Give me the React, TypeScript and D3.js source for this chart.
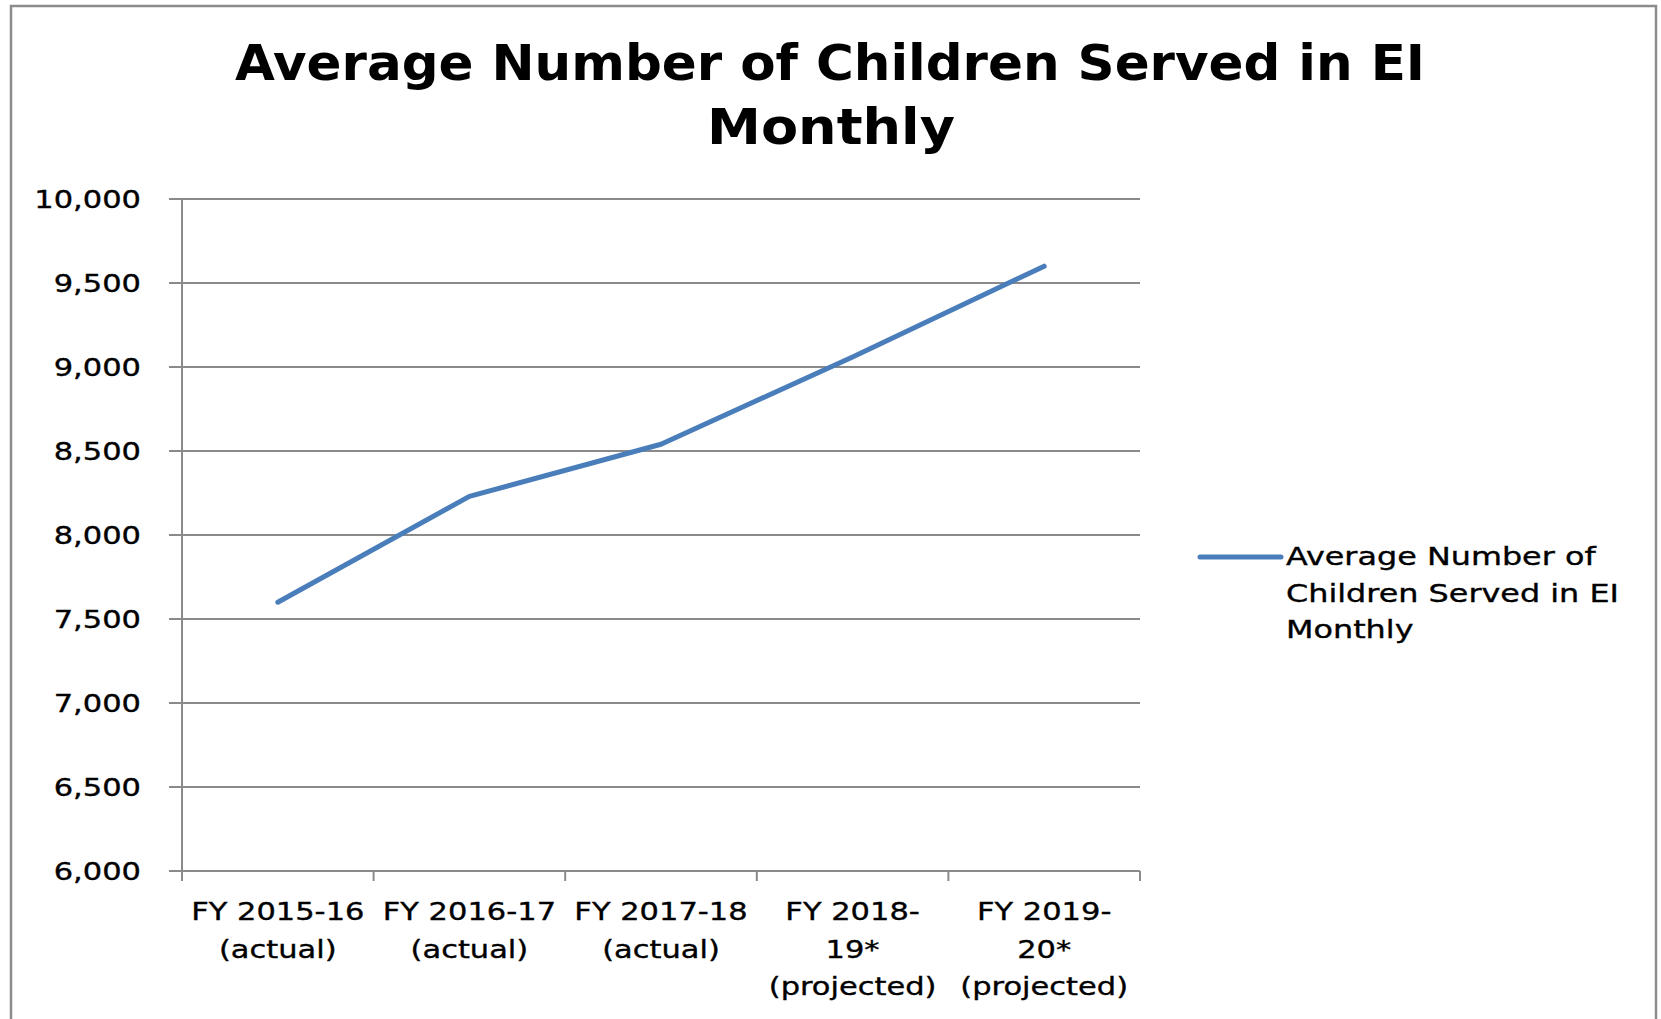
import React from "react";
import * as d3 from "d3";

const categories: string[][] = [
  ["FY 2015-16", "(actual)"],
  ["FY 2016-17", "(actual)"],
  ["FY 2017-18", "(actual)"],
  ["FY 2018-", "19*", "(projected)"],
  ["FY 2019-", "20*", "(projected)"],
];
const values: number[] = [7600, 8230, 8540, 9060, 9600];
const yTicks: number[] = [6000, 6500, 7000, 7500, 8000, 8500, 9000, 9500, 10000];
const titleLines: string[] = ["Average Number of Children Served in EI", "Monthly"];
const legendLines: string[] = ["Average Number of", "Children Served in EI", "Monthly"];

const W = 1661;
const H = 1019;
const plot = { left: 182, right: 1140, top: 199, bottom: 871 };
const FONT = "'DejaVu Sans', Verdana, sans-serif";
const GRID = "#8a8a8a";
const LINE = "#4A7EBB";

export default function App() {
  const keys = categories.map((c, i) => String(i));
  const x = d3.scaleBand<string>().domain(keys).range([plot.left, plot.right]).paddingInner(0).paddingOuter(0);
  const y = d3.scaleLinear().domain([6000, 10000]).range([plot.bottom, plot.top]);
  const fmt = d3.format(",");
  const line = d3
    .line<number>()
    .x((_, i) => (x(String(i)) as number) + x.bandwidth() / 2)
    .y((d) => y(d));
  const boundaries = keys.map((k) => x(k) as number).concat([plot.right]);

  const labelSize = 24.5;
  const labelStretch = 1.245;
  const legendStretch = 1.3;
  const textStroke = { stroke: "#000", strokeWidth: 0.35 };

  return (
    <svg
      width={W}
      height={H}
      style={{ position: "absolute", left: 0, top: 0, display: "block", background: "#fff" }}
    >
      <rect x={0} y={0} width={W} height={H} fill="#fff" />
      <rect x={11} y={6} width={1645} height={1040} fill="#fff" stroke="#8c8c8c" strokeWidth={2.5} />

      {/* Title */}
      <text
        x={830}
        y={80}
        textAnchor="middle"
        fontFamily={FONT}
        fontWeight="bold"
        fontSize={50}
        textLength={1190}
        lengthAdjust="spacingAndGlyphs"
        fill="#000"
      >
        {titleLines[0]}
      </text>
      <text
        x={831}
        y={144}
        textAnchor="middle"
        fontFamily={FONT}
        fontWeight="bold"
        fontSize={50}
        textLength={248}
        lengthAdjust="spacingAndGlyphs"
        fill="#000"
      >
        {titleLines[1]}
      </text>

      {/* Gridlines and y ticks */}
      {yTicks.map((t) => (
        <g key={t}>
          <line x1={169} x2={plot.right} y1={y(t)} y2={y(t)} stroke={GRID} strokeWidth={2} />
          <text
            transform={`translate(141,${y(t) + 9}) scale(${labelStretch},1)`}
            textAnchor="end"
            fontFamily={FONT}
            fontSize={labelSize}
            fill="#000"
            {...textStroke}
          >
            {fmt(t)}
          </text>
        </g>
      ))}

      {/* Axes */}
      <line x1={plot.left} x2={plot.left} y1={plot.top} y2={plot.bottom + 10} stroke={GRID} strokeWidth={2} />
      {boundaries.map((b, i) => (
        <line key={i} x1={b} x2={b} y1={plot.bottom} y2={plot.bottom + 10} stroke={GRID} strokeWidth={2} />
      ))}

      {/* X labels */}
      {categories.map((c, i) => {
        const cx = (x(String(i)) as number) + x.bandwidth() / 2;
        return c.map((ln, j) => (
          <text
            key={`${i}-${j}`}
            transform={`translate(${cx},${920 + j * 37.5}) scale(${labelStretch},1)`}
            textAnchor="middle"
            fontFamily={FONT}
            fontSize={labelSize}
            fill="#000"
            {...textStroke}
          >
            {ln}
          </text>
        ));
      })}

      {/* Series line */}
      <path
        d={line(values) || ""}
        fill="none"
        stroke={LINE}
        strokeWidth={5}
        strokeLinecap="round"
        strokeLinejoin="round"
      />

      {/* Legend */}
      <line x1={1200} x2={1281} y1={557} y2={557} stroke={LINE} strokeWidth={5} strokeLinecap="round" />
      {legendLines.map((ln, j) => (
        <text
          key={j}
          transform={`translate(1286,${565 + j * 36.5}) scale(${legendStretch},1)`}
          fontFamily={FONT}
          fontSize={labelSize}
          fill="#000"
          {...textStroke}
        >
          {ln}
        </text>
      ))}
    </svg>
  );
}
